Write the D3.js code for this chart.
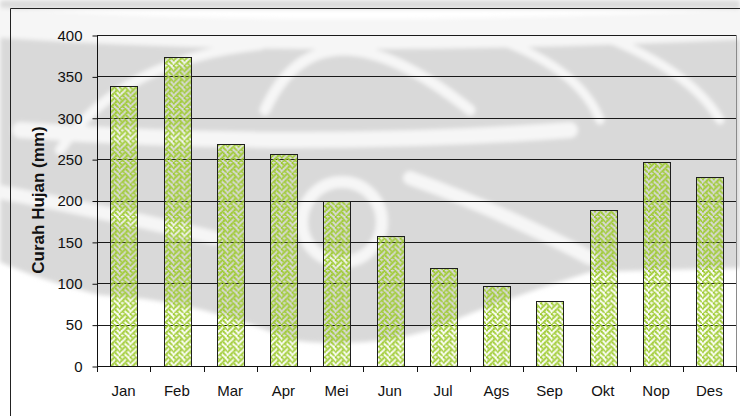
<!DOCTYPE html>
<html>
<head>
<meta charset="utf-8">
<script src="https://cdn.jsdelivr.net/npm/d3@7"></script>
<style>
  html, body { margin: 0; padding: 0; background: #ffffff; }
  svg { display: block; }
  text { font-family: "Liberation Sans", Arial, sans-serif; fill: #111; }
</style>
</head>
<body>
<svg id="chart" width="740" height="416"></svg>
<script>
// Monthly rainfall (mm)
const months = ["Jan", "Feb", "Mar", "Apr", "Mei", "Jun", "Jul", "Ags", "Sep", "Okt", "Nop", "Des"];
const rainfall = [338, 373, 268, 256, 200, 157, 119, 97, 79, 188, 246, 228];
const yTicks = [0, 50, 100, 150, 200, 250, 300, 350, 400];
const yTitle = "Curah Hujan (mm)";

// 8x8 weave hatch bitmap
const weaveRows = [0x88, 0x54, 0x22, 0x45, 0x88, 0x14, 0x22, 0x51];

const svg = d3.select("#chart");
const W = 740, H = 416;
const plot = { left: 97, right: 736, top: 35, bottom: 366 };

const defs = svg.append("defs");

// soft background logo mark
defs.append("filter").attr("id", "soft")
  .append("feGaussianBlur").attr("stdDeviation", 2.2);

const pat = defs.append("pattern")
  .attr("id", "weave")
  .attr("patternUnits", "userSpaceOnUse")
  .attr("width", 8).attr("height", 8)
  .attr("patternTransform", "scale(1.35)");
weaveRows.forEach((bits, r) => {
  for (let c = 0; c < 8; c++) {
    if (bits & (0x80 >> c)) {
      pat.append("rect").attr("x", c).attr("y", r)
        .attr("width", 1.45).attr("height", 1.45)
        .attr("fill", "#9dca2e");
    }
  }
});

// background mark
const mark = svg.append("g").attr("filter", "url(#soft)");
mark.append("rect").attr("x", 0).attr("y", 0).attr("width", W).attr("height", 9).attr("fill", "#dcdcdc");
mark.append("path")
  .attr("d", "M0,22 L740,22 L740,268 Q660,270 590,272 Q500,300 430,330 Q360,350 290,340 Q200,300 100,295 Q40,280 0,262 Z")
  .attr("fill", "#d9d9d9");
const light = "#f6f6f6";
const strokes = [
  ["M-10,22 Q300,45 750,24", 30],
  ["M60,150 Q120,60 260,45", 10],
  ["M265,110 Q320,-10 470,110", 11],
  ["M500,40 Q580,70 600,120", 9],
  ["M600,35 Q690,70 720,120", 9],
  ["M20,130 Q300,150 570,130", 16],
  ["M-10,190 Q120,215 215,238", 14],
  ["M410,178 Q500,210 590,258", 14]
];
strokes.forEach(([d, w]) => {
  mark.append("path").attr("d", d).attr("fill", "none")
    .attr("stroke", light).attr("stroke-width", w).attr("stroke-linecap", "round");
});
mark.append("circle").attr("cx", 342).attr("cy", 222).attr("r", 40)
  .attr("fill", "none").attr("stroke", light).attr("stroke-width", 12);

// outer chart frame
svg.append("path")
  .attr("d", `M10.5,${H + 2} L10.5,8.5 L${W + 2},8.5`)
  .attr("fill", "none").attr("stroke", "#222").attr("stroke-width", 1);

const x = d3.scaleBand().domain(months).range([plot.left, plot.right]).paddingInner(0.5).paddingOuter(0.25);
const y = d3.scaleLinear().domain([0, 400]).range([plot.bottom, plot.top]);

// gridlines
svg.append("g").selectAll("line").data(yTicks.filter(t => t > 0)).join("line")
  .attr("x1", plot.left).attr("x2", plot.right)
  .attr("y1", d => Math.round(y(d)) + 0.5).attr("y2", d => Math.round(y(d)) + 0.5)
  .attr("stroke", "#1a1a1a").attr("stroke-width", 1);

// plot area right edge
svg.append("line")
  .attr("x1", plot.right + 0.5).attr("x2", plot.right + 0.5)
  .attr("y1", plot.top).attr("y2", plot.bottom)
  .attr("stroke", "#8a8a8a");

// bars
svg.append("g").selectAll("rect").data(months).join("rect")
  .attr("x", d => Math.round(x(d)) + 0.5)
  .attr("y", (d, i) => Math.round(y(rainfall[i])) + 0.5)
  .attr("width", Math.round(x.bandwidth()))
  .attr("height", (d, i) => Math.round(y(0)) - Math.round(y(rainfall[i])))
  .attr("fill", "url(#weave)")
  .attr("stroke", "#1e1e1e").attr("stroke-width", 1);

// y axis
const yAxis = d3.axisLeft(y).tickValues(yTicks).tickSize(5).tickPadding(10).tickFormat(d3.format("d"));
const gy = svg.append("g").attr("transform", `translate(${plot.left + 0.5},0.5)`).call(yAxis);
gy.select(".domain").attr("stroke", "#111").attr("d", `M0,${plot.top}V${plot.bottom}`);
gy.selectAll(".tick line").attr("stroke", "#111");
gy.selectAll(".tick text").attr("font-size", 15).attr("fill", "#111")
  .attr("font-family", "'Liberation Sans', Arial, sans-serif");

// x axis with category boundary ticks
const boundaries = d3.range(months.length + 1).map(i => plot.left + i * x.step());
const gx = svg.append("g");
gx.append("line").attr("x1", plot.left).attr("x2", plot.right + 1)
  .attr("y1", Math.round(y(0)) + 0.5).attr("y2", Math.round(y(0)) + 0.5).attr("stroke", "#111");
gx.selectAll("line.b").data(boundaries).join("line").attr("class", "b")
  .attr("x1", d => Math.round(d) + 0.5).attr("x2", d => Math.round(d) + 0.5)
  .attr("y1", Math.round(y(0))).attr("y2", Math.round(y(0)) + 6).attr("stroke", "#111");
gx.selectAll("text").data(months).join("text")
  .attr("x", d => x(d) + x.bandwidth() / 2)
  .attr("y", 396)
  .attr("text-anchor", "middle")
  .attr("font-size", 15)
  .text(d => d);

// y axis title
svg.append("text")
  .attr("transform", `translate(44,200) rotate(-90)`)
  .attr("text-anchor", "middle")
  .attr("font-size", 17).attr("font-weight", "bold")
  .text(yTitle);
</script>
</body>
</html>
